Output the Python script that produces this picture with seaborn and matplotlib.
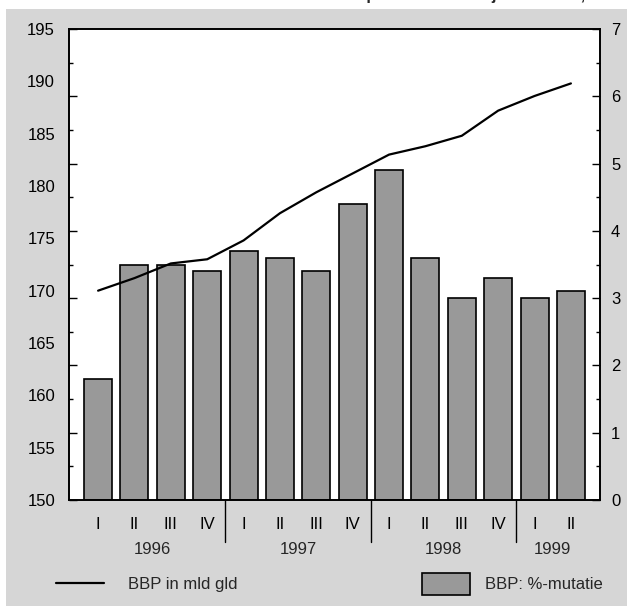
import numpy as np
import pandas as pd
import seaborn as sns
import matplotlib.pyplot as plt
from matplotlib.lines import Line2D
from matplotlib.patches import Patch, Rectangle
from matplotlib.transforms import blended_transform_factory

# Quarterly data 1996-1999
years = ['1996'] * 4 + ['1997'] * 4 + ['1998'] * 4 + ['1999'] * 2
quarters = ['I', 'II', 'III', 'IV'] * 3 + ['I', 'II']
bbp_mld = [170.0, 171.2, 172.6, 173.0, 174.8, 177.4, 179.4, 181.2,
           183.0, 183.8, 184.8, 187.2, 188.6, 189.8]
bbp_mutatie = [1.8, 3.5, 3.5, 3.4, 3.7, 3.6, 3.4, 4.4,
               4.9, 3.6, 3.0, 3.3, 3.0, 3.1]

left_ticks = list(range(150, 196, 5))
right_ticks = list(range(0, 8))

title = 'BBP: totaal per kwartaal en jaarmutatie, 1996-1999'

FS = 12


def main():
    df = pd.DataFrame({'jaar': years, 'kwartaal': quarters,
                       'mld': bbp_mld, 'mutatie': bbp_mutatie})
    df['label'] = df['jaar'] + '-' + df['kwartaal']
    df['pos'] = np.arange(len(df))

    sns.set_theme(style='ticks')
    plt.rcParams['font.family'] = ['Liberation Sans', 'DejaVu Sans']

    fig = plt.figure(figsize=(6.29, 6.12), dpi=100, facecolor='white')
    W, H = 629, 612
    fig.patches.append(Rectangle((6 / W, 6 / H), 621 / W, 597 / H,
                                 transform=fig.transFigure, facecolor='#d6d6d6',
                                 edgecolor='none', zorder=-1))

    ax = fig.add_axes([69 / W, (H - 500) / H, 531 / W, 471 / H])
    ax.set_facecolor('white')

    # Bars: percentage change (right-hand scale)
    sns.barplot(data=df, x='label', y='mutatie', ax=ax, color='#999999',
                saturation=1, width=0.77, edgecolor='black', linewidth=1.2,
                errorbar=None)
    ax.set_ylim(0, 7)
    ax.set_xlim(-0.8, len(df) - 0.2)
    ax.set_xticks(df['pos'])
    ax.set_xticklabels(df['kwartaal'])
    ax.tick_params(axis='x', length=0, labelsize=FS, pad=12, colors='black')
    ax.set_xlabel('')
    ax.set_ylabel('')

    # Line: GDP level (left-hand scale)
    ax2 = ax.twinx()
    sns.lineplot(data=df, x='pos', y='mld', ax=ax2, color='black', linewidth=1.6)
    ax2.set_ylim(150, 195)
    ax2.set_yticks(left_ticks)
    ax2.yaxis.tick_left()
    ax2.tick_params(axis='y', length=0, labelsize=FS, pad=10, colors='black')
    ax2.set_ylabel('')
    ax2.set_xlabel('')

    # right-hand scale ticks on both spines, labels on the right
    ax.set_yticks(right_ticks)
    ax.set_yticks(np.arange(0.5, 7, 1), minor=True)
    ax.tick_params(axis='y', which='both', direction='in', left=True, right=True,
                   labelleft=False, labelright=True, colors='black',
                   labelsize=FS, pad=8)
    ax.tick_params(axis='y', which='major', length=6, width=1)
    ax.tick_params(axis='y', which='minor', length=3, width=1)

    for a in (ax, ax2):
        for s in a.spines.values():
            s.set_visible(True)
            s.set_color('black')
            s.set_linewidth(1.2)

    # Year separators and year labels under the axis
    trans = blended_transform_factory(ax.transData, ax.transAxes)
    for p in df.loc[(df['kwartaal'] == 'I') & (df['pos'] > 0), 'pos']:
        ax.plot([p - 0.5, p - 0.5], [0, -0.089], transform=trans,
                color='black', linewidth=1, clip_on=False)
    for jaar, grp in df.groupby('jaar'):
        ax.text(grp['pos'].mean(), -0.106, jaar, transform=trans,
                ha='center', va='center', fontsize=FS)

    # Legends
    line_handle = Line2D([], [], color='black', linewidth=1.6)
    bar_handle = Patch(facecolor='#999999', edgecolor='black', linewidth=1.2)
    fig.legend(handles=[line_handle], labels=['BBP in mld gld'],
               loc='center left', bbox_to_anchor=(41 / W, (H - 584) / H),
               frameon=False, fontsize=FS, handlelength=2.9, handletextpad=1.4)
    fig.legend(handles=[bar_handle], labels=['BBP: %-mutatie'],
               loc='center left', bbox_to_anchor=(407 / W, (H - 584) / H),
               frameon=False, fontsize=FS, handlelength=2.9, handleheight=1.6,
               handletextpad=0.9)

    # Title mostly outside the picture (only descenders show)
    fig.text(272 / W, 1.0, title, ha='left', va='baseline',
             fontsize=12, fontweight='bold')

    plt.savefig('out.png', dpi=100)


if __name__ == '__main__':
    main()
